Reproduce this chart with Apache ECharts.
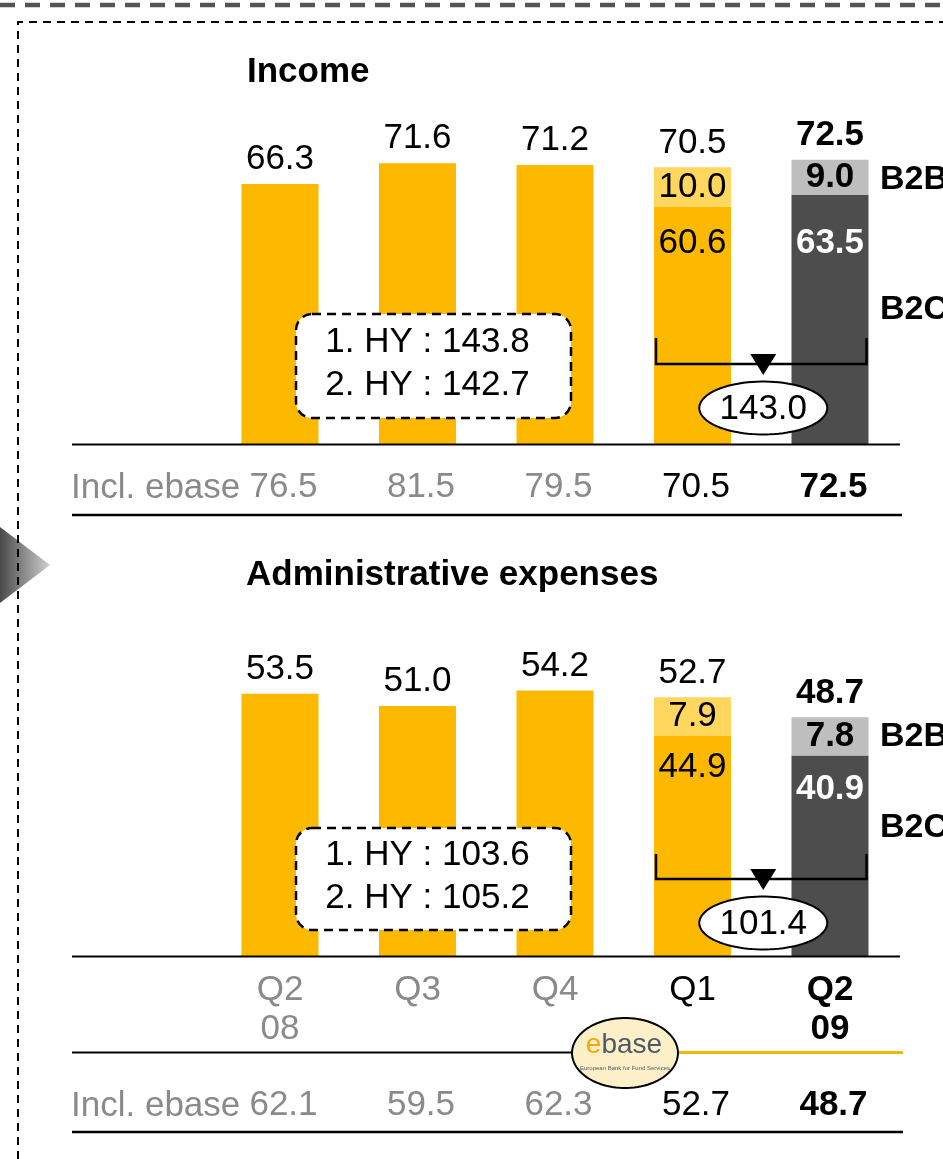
<!DOCTYPE html>
<html>
<head>
<meta charset="utf-8">
<script src="https://cdn.jsdelivr.net/npm/echarts@6/dist/echarts.min.js"></script>
<style>
  html, body { margin: 0; padding: 0; background: #fff; }
  #chart { width: 943px; height: 1159px; }
</style>
</head>
<body>
<div id="chart"></div>
<script>
// Quarters shown on the category axis
const quarters = ['Q2\n08', 'Q3', 'Q4', 'Q1', 'Q2\n09'];

// Income (EUR m)
const incomeTotal = [66.3, 71.6, 71.2, 70.5, 72.5];
const incomeB2C = [null, null, null, 60.6, 63.5];
const incomeB2B = [null, null, null, 10.0, 9.0];
const incomeInclEbase = [76.5, 81.5, 79.5, 70.5, 72.5];
const incomeHalfYears = ['1. HY : 143.8', '2. HY : 142.7'];
const incomeFirstHalf09 = 143.0;

// Administrative expenses (EUR m)
const adminTotal = [53.5, 51.0, 54.2, 52.7, 48.7];
const adminB2C = [null, null, null, 44.9, 40.9];
const adminB2B = [null, null, null, 7.9, 7.8];
const adminInclEbase = [62.1, 59.5, 62.3, 52.7, 48.7];
const adminHalfYears = ['1. HY : 103.6', '2. HY : 105.2'];
const adminFirstHalf09 = 101.4;

const FONT = "'Liberation Sans', Arial, Helvetica, sans-serif";
const FS = 35;
const YELLOW = '#FDB900';
const YELLOW_LIGHT = '#FFD65E';
const GRAY_DARK = '#4D4D4D';
const GRAY_LIGHT = '#BEBEBE';
const MUTED = '#8A8A8A';
const BAR_W = 77;

const chart = echarts.init(document.getElementById('chart'), null, { renderer: 'canvas' });

// style key per quarter: earlier quarters muted, Q1 plain, latest bold
function styleKey(i) {
  const last = quarters.length - 1;
  return i < 3 ? 'g' : (i === last ? 'b' : 'k');
}
function richSet(pad) {
  const base = { fontSize: FS, fontFamily: FONT, lineHeight: 39, padding: pad };
  return {
    g: Object.assign({}, base, { color: MUTED }),
    k: Object.assign({}, base, { color: '#000' }),
    b: Object.assign({}, base, { color: '#000', fontWeight: 'bold' })
  };
}
function wrapLines(text, i) {
  const k = styleKey(i);
  return String(text).split('\n').map(s => '{' + k + '|' + s + '}').join('\n');
}

// b2cLabelY: label centre (px below the segment top) for the B2C values
function buildSeries(total, b2c, b2b, b2cLabelY, axisIdx) {
  const last = total.length - 1;
  const common = {
    type: 'bar', stack: 'seg' + axisIdx, barWidth: BAR_W, barGap: '-100%',
    xAxisIndex: axisIdx, yAxisIndex: axisIdx, silent: true, z: 2
  };
  const numLabel = (extra) => Object.assign({
    show: true, fontSize: FS, fontFamily: FONT, color: '#000',
    formatter: p => Number(p.value).toFixed(1)
  }, extra);

  const base = total.map((t, i) => {
    if (b2c[i] == null) return t;
    if (i === last) return null;
    return { value: b2c[i], label: numLabel({ position: ['50%', b2cLabelY[0]], align: 'center', verticalAlign: 'middle' }) };
  });
  const lightY = b2b.map((v, i) => (i < last && v != null)
    ? { value: v, label: numLabel({ position: 'inside' }) } : null);
  const darkG = b2c.map((v, i) => (i === last && v != null)
    ? { value: v, label: numLabel({ position: ['50%', b2cLabelY[1]], align: 'center', verticalAlign: 'middle', color: '#fff', fontWeight: 'bold' }) } : null);
  const lightG = b2b.map((v, i) => (i === last && v != null)
    ? { value: v, label: numLabel({ position: 'inside', fontWeight: 'bold' }) } : null);

  return [
    Object.assign({}, common, { name: 'base', data: base, itemStyle: { color: YELLOW } }),
    Object.assign({}, common, { name: 'B2B prev', data: lightY, itemStyle: { color: YELLOW_LIGHT } }),
    Object.assign({}, common, { name: 'B2C', data: darkG, itemStyle: { color: GRAY_DARK } }),
    Object.assign({}, common, { name: 'B2B', data: lightG, itemStyle: { color: GRAY_LIGHT } }),
    {
      type: 'bar', name: 'total', barWidth: BAR_W, barGap: '-100%', silent: true, z: 1,
      xAxisIndex: axisIdx, yAxisIndex: axisIdx,
      data: total,
      itemStyle: { color: 'rgba(0,0,0,0)' },
      label: {
        show: true, position: 'top', distance: 7,
        formatter: p => '{' + (p.dataIndex === last ? 'tb' : 'tn') + '|' + p.value.toFixed(1) + '}',
        rich: {
          tn: { fontSize: FS, fontFamily: FONT, color: '#000' },
          tb: { fontSize: FS, fontFamily: FONT, color: '#000', fontWeight: 'bold' }
        }
      }
    }
  ];
}

const option = {
  animation: false,
  backgroundColor: '#fff',
  grid: [
    { left: 211.25, width: 687.5, top: 130.4, height: 313.6 },
    { left: 211.25, width: 687.5, top: 662, height: 294 }
  ],
  xAxis: [
    {
      gridIndex: 0, type: 'category', data: quarters, position: 'bottom',
      axisLine: { show: false }, axisTick: { show: false },
      axisLabel: {
        interval: 0, margin: 24,
        formatter: (v, i) => wrapLines(incomeInclEbase[i].toFixed(1), i),
        rich: richSet([0, 0, 0, 7])
      }
    },
    {
      gridIndex: 1, type: 'category', data: quarters, position: 'bottom',
      axisLine: { show: false }, axisTick: { show: false },
      axisLabel: {
        interval: 0, margin: 15,
        formatter: (v, i) => wrapLines(v, i),
        rich: richSet([0, 0, 0, 0])
      }
    },
    {
      gridIndex: 1, type: 'category', data: quarters, position: 'bottom', offset: 0,
      axisLine: { show: false }, axisTick: { show: false },
      axisLabel: {
        interval: 0, margin: 130,
        formatter: (v, i) => wrapLines(adminInclEbase[i].toFixed(1), i),
        rich: richSet([0, 0, 0, 7])
      }
    }
  ],
  yAxis: [
    { gridIndex: 0, type: 'value', min: 0, max: 80, show: false },
    { gridIndex: 1, type: 'value', min: 0, max: 60, show: false }
  ],
  series: [
    ...buildSeries(incomeTotal, incomeB2C, incomeB2B, [37, 48], 0),
    ...buildSeries(adminTotal, adminB2C, adminB2B, [31, 34], 1)
  ]
};
chart.setOption(option);

// ---------- decorations ----------
function ellipsePoints(cx, cy, rx, ry) {
  const pts = [];
  for (let k = 0; k < 90; k++) {
    const a = (k / 90) * Math.PI * 2;
    pts.push([cx + rx * Math.cos(a), cy + ry * Math.sin(a)]);
  }
  return pts;
}
function txt(x, y, text, opts) {
  return {
    type: 'text', x, y, z: 120,
    style: Object.assign({
      text, fill: '#000', font: FS + 'px ' + FONT,
      textAlign: 'left', textVerticalAlign: 'middle'
    }, opts || {})
  };
}
function hline(x1, x2, y, color, w) {
  return { type: 'line', z: 110, shape: { x1, y1: y, x2, y2: y }, style: { stroke: color || '#000', lineWidth: w || 2 } };
}
function halfYearBox(top, bottom, lines) {
  const midX = 433.5, h = bottom - top;
  return [
    { type: 'rect', z: 115, shape: { x: 296, y: top, width: 275, height: h, r: 16 },
      style: { fill: '#fff', stroke: '#000', lineWidth: 2.5, lineDash: [9, 6] } },
    txt(midX - 6, top + h * 0.27, lines[0], { textAlign: 'center' }),
    txt(midX - 6, top + h * 0.69, lines[1], { textAlign: 'center' })
  ];
}
function bracket(axisIdx, yTop, yBar, total) {
  const xA = chart.convertToPixel({ xAxisIndex: axisIdx }, 3) - BAR_W / 2 + 2;
  const xB = chart.convertToPixel({ xAxisIndex: axisIdx }, 4) + BAR_W / 2 - 2;
  const mid = (xA + xB) / 2 + 2;
  return [
    { type: 'polyline', z: 116, shape: { points: [[xA, yTop], [xA, yBar], [xB, yBar], [xB, yTop]] },
      style: { stroke: '#000', lineWidth: 2.5, fill: null } },
    { type: 'polygon', z: 117, shape: { points: [[mid - 13, yBar - 10], [mid + 13, yBar - 10], [mid, yBar + 11]] },
      style: { fill: '#000' } },
    { type: 'polygon', z: 118, shape: { points: ellipsePoints(mid, yBar + 44, 64, 26.5) },
      style: { fill: '#fff', stroke: '#000', lineWidth: 2 } },
    txt(mid, yBar + 45, total.toFixed(1), { textAlign: 'center' })
  ];
}

const deco = [
  // outer frame
  { type: 'line', z: 100, shape: { x1: 0, y1: 5, x2: 943, y2: 5 },
    style: { stroke: '#555', lineWidth: 4.5, lineDash: [15, 10] } },
  // pointer arrow on the left edge
  { type: 'polygon', z: 100, shape: { points: [[0, 527], [50, 565], [0, 603]] },
    style: { fill: new echarts.graphic.LinearGradient(0, 0, 1, 0, [
      { offset: 0, color: '#4A4A4A' }, { offset: 1, color: '#CFCFCF' }]) } },
  // inner frame
  { type: 'polyline', z: 101, shape: { points: [[18, 1159], [18, 22], [943, 22]] },
    style: { stroke: '#000', lineWidth: 2, lineDash: [8, 6], fill: null } },

  // titles
  txt(247, 72, 'Income', { font: 'bold 35px ' + FONT }),
  txt(246, 575, 'Administrative expenses', { font: 'bold 35px ' + FONT }),

  // axes and row rules
  hline(72, 900, 444.5),
  hline(72, 902, 515, '#000', 2.5),
  hline(72, 900, 956.5),
  hline(72, 574, 1052.5),
  hline(676, 903, 1052.5, '#F5B800', 3),
  hline(72, 903, 1132, '#000', 2.5),

  // row captions
  txt(71, 488, 'Incl. ebase', { fill: MUTED }),
  txt(71, 1106, 'Incl. ebase', { fill: MUTED }),

  // segment captions
  txt(880, 180, 'B2B', { font: 'bold 34px ' + FONT }),
  txt(880, 310, 'B2C', { font: 'bold 34px ' + FONT }),
  txt(880, 737, 'B2B', { font: 'bold 34px ' + FONT }),
  txt(880, 828, 'B2C', { font: 'bold 34px ' + FONT }),

  ...halfYearBox(314, 418, incomeHalfYears),
  ...halfYearBox(828, 930, adminHalfYears),
  ...bracket(0, 338, 364, incomeFirstHalf09),
  ...bracket(1, 854, 879, adminFirstHalf09),

  // ebase logo
  { type: 'polygon', z: 130, shape: { points: ellipsePoints(625, 1053, 53, 35) },
    style: { fill: '#FDF0C8', stroke: '#000', lineWidth: 2 } },
  { type: 'text', x: 624, y: 1045, z: 131,
    style: { text: '{e|e}{b|base}', textAlign: 'center', textVerticalAlign: 'middle',
      rich: { e: { fill: '#F5A800', fontSize: 28, fontFamily: FONT },
              b: { fill: '#4E5A66', fontSize: 28, fontFamily: FONT } } } },
  { type: 'text', x: 625, y: 1068, z: 131,
    style: { text: 'European Bank for Fund Services', fill: '#4E5A66', font: '6px ' + FONT,
      textAlign: 'center', textVerticalAlign: 'middle' } }
];

chart.setOption({ graphic: { elements: deco } });
</script>
</body>
</html>
